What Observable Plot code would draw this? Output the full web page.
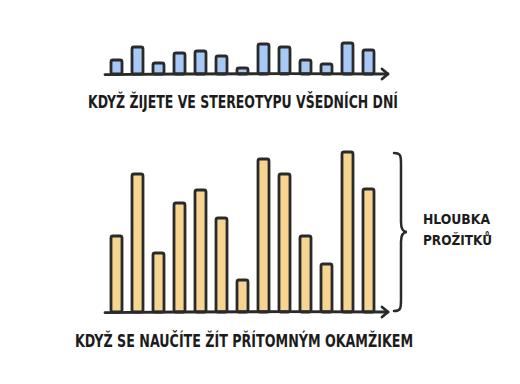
<!DOCTYPE html>
<html><head><meta charset="utf-8">
<script src="https://cdn.jsdelivr.net/npm/d3@7"></script>
<script src="https://cdn.jsdelivr.net/npm/@observablehq/plot@0.6"></script>
<style>
html,body{margin:0;padding:0;background:#fff;}
#wrap{position:relative;width:520px;height:384px;overflow:hidden;background:#fff;font-family:"DejaVu Sans Condensed","DejaVu Sans",sans-serif;color:#1c1c1c;}
#wrap svg{position:absolute;left:0;overflow:visible;}
.lbl{position:absolute;white-space:nowrap;line-height:1;transform-origin:0 0;font-weight:bold;}
</style>
</head><body>
<div id="wrap"></div>
<script>
// ---- data ----
const days = ["1","2","3","4","5","6","7","8","9","10","11","12","13"];
const routineDepth = [14, 27, 11, 21, 23, 18, 6, 30, 27, 14, 10, 31, 24];
const presentDepth = [76, 138, 59, 109, 122, 94, 32, 153, 138, 76, 48, 160, 123];
const topCaption = "KDYŽ ŽIJETE VE STEREOTYPU VŠEDNÍCH DNÍ";
const bottomCaption = "KDYŽ SE NAUČÍTE ŽÍT PŘÍTOMNÝM OKAMŽIKEM";
const braceLabel = ["HLOUBKA", "PROŽITKŮ"];

const routine = days.map((d, i) => ({day: d, depth: routineDepth[i]}));
const present = days.map((d, i) => ({day: d, depth: presentDepth[i]}));

const ink = "#2a2a2a";

// axis with arrow, drawn from the plot's own frame and y scale
function arrowAxis(index, scales, values, dim) {
  const y0 = scales.y(0);
  const x0 = dim.marginLeft + 6;
  const x1 = dim.width - dim.marginRight + 3;
  const g = d3.create("svg:g").attr("fill", "none").attr("stroke", ink)
    .attr("stroke-width", 2.8).attr("stroke-linecap", "round").attr("stroke-linejoin", "round");
  g.append("path").attr("d", `M${x0},${y0 + 0.6}Q${(x0 + x1) / 2},${y0 - 0.8} ${x1},${y0}`);
  g.append("path").attr("d", `M${x1 - 6},${y0 - 5}L${x1},${y0}L${x1 - 6},${y0 + 5}`);
  return g.node();
}

// curly brace spanning from 0 to the deepest experience
function brace(index, scales, values, dim) {
  const yTop = scales.y(d3.max(presentDepth)) + 1;
  const yBot = scales.y(0) - 1;
  const ym = (yTop + yBot) / 2;
  const xl = dim.width - dim.marginRight + 9, xm = xl + 7, xr = xl + 13;
  const d = `M${xl},${yTop}C${xm},${yTop} ${xm},${yTop + 3} ${xm},${yTop + 12}` +
    `L${xm},${ym - 10}C${xm},${ym - 3} ${xm + 2},${ym} ${xr},${ym}` +
    `C${xm + 2},${ym} ${xm},${ym + 3} ${xm},${ym + 10}` +
    `L${xm},${yBot - 12}C${xm},${yBot - 3} ${xm},${yBot} ${xl},${yBot}`;
  return d3.create("svg:path").attr("d", d).attr("fill", "none").attr("stroke", ink)
    .attr("stroke-width", 2.5).attr("stroke-linecap", "round").node();
}

const common = {
  width: 520,
  marginLeft: 99,
  marginRight: 135,
  x: {domain: days, padding: 0.48, axis: null},
  style: {background: "transparent", overflow: "visible"}
};

const topPlot = Plot.plot({
  ...common,
  height: 90,
  marginTop: 34,
  marginBottom: 16,
  y: {domain: [0, 40], axis: null},
  marks: [
    Plot.barY(routine, {x: "day", y: "depth", fill: "#a7c9f5", stroke: ink, strokeWidth: 2.8, rx: 2, strokeLinejoin: "round"}),
    arrowAxis
  ]
});

const bottomPlot = Plot.plot({
  ...common,
  height: 210,
  marginTop: 12,
  marginBottom: 18,
  y: {domain: [0, 180], axis: null},
  marks: [
    Plot.barY(present, {x: "day", y: "depth", fill: "#f7d590", stroke: ink, strokeWidth: 2.8, rx: 2, strokeLinejoin: "round"}),
    arrowAxis,
    brace
  ]
});

const wrap = document.getElementById("wrap");
topPlot.style.top = "0px";
bottomPlot.style.top = "120px";
wrap.appendChild(topPlot);
wrap.appendChild(bottomPlot);

function label(text, left, top, size, targetWidth) {
  const el = document.createElement("div");
  el.className = "lbl";
  el.textContent = text;
  el.style.fontSize = size + "px";
  el.style.left = left + "px";
  el.style.top = top + "px";
  wrap.appendChild(el);
  if (targetWidth) {
    const w = el.getBoundingClientRect().width;
    el.style.transform = `scaleX(${targetWidth / w})`;
  }
  return el;
}
label(topCaption, 88, 94, 17.5, 310);
label(bottomCaption, 75, 333, 17.5, 338);
label(braceLabel[0], 423, 212, 14.5, 67);
label(braceLabel[1], 423, 233, 14.5, 69);
</script>
</body></html>
